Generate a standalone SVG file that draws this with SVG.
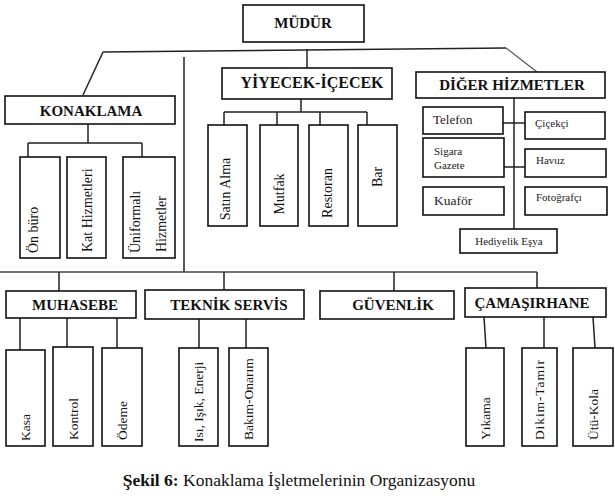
<svg xmlns="http://www.w3.org/2000/svg" width="615" height="503" viewBox="0 0 615 503">
<style>
.box{fill:#fff;stroke:#111;stroke-width:1.6}
.ln{stroke:#222;stroke-width:1.5;fill:none}
.lt{stroke:#555;stroke-width:1.2;fill:none}
text{font-family:"Liberation Serif","Times New Roman",serif;fill:#111}
.h{font-size:15px;font-weight:bold;text-anchor:middle}
.c14{font-size:14px}
.c13{font-size:13.5px}
.s{font-size:11px;fill:#222}
</style>
<rect width="615" height="503" fill="#fff"/>
<g id="connectors">
<path class="ln" d="M103,52 L506,48"/>
<path class="ln" d="M103,52 L83,95"/>
<path class="lt" d="M506,48 L537,72"/>
<path class="ln" d="M307,49 V68"/>
<path class="ln" d="M184,57 V272"/>
<path class="ln" d="M88,124 V143 M28,143 H142 M28,143 V157 M142,143 V157"/>
<path class="ln" d="M301,99 V112 M224,112 H367 M224,112 V125 M277,112 V125 M320,112 V125 M367,112 V125"/>
<path class="ln" d="M514,98 V229 M503,123 H525 M504,167 H525"/>
<path class="lt" d="M0,272 H537" style="stroke:#444;stroke-width:1.5"/>
<path class="ln" d="M59,272 V291 M224,272 V290 M394,272 V291 M537,272 V288"/>
<path class="ln" d="M20,318 V350 M67,318 V347 M117,318 V348"/>
<path class="ln" d="M199,319 V348 M246,319 V348"/>
<path class="ln" d="M484,317 L486,348 M544,317 V348 M593,317 L595,348"/>
</g>
<g id="mudur"><rect class="box" x="243" y="5" width="121" height="37"/><text class="h" x="303" y="28">MÜDÜR</text></g>
<g id="konaklama"><rect class="box" x="5" y="96" width="170" height="28"/><text class="h" x="91" y="116">KONAKLAMA</text></g>
<g id="on-buro"><rect class="box" x="20" y="157" width="40" height="101"/><text class="c14" transform="translate(38,253) rotate(-90)">Ön büro</text></g>
<g id="kat-hizmetleri"><rect class="box" x="67" y="157" width="39" height="101"/><text class="c14" transform="translate(92,252) rotate(-90)">Kat Hizmetleri</text></g>
<g id="uniformali"><rect class="box" x="123" y="157" width="52" height="101"/><text class="c14" transform="translate(140,253) rotate(-90)">Üniformalı</text><text class="c14" transform="translate(166,252) rotate(-90)">Hizmetler</text></g>
<g id="yiyecek"><rect class="box" x="222" y="68" width="170" height="31"/><text class="h" x="312" y="88" style="font-size:16px">YİYECEK-İÇECEK</text></g>
<g id="satin-alma"><rect class="box" x="208" y="125" width="39" height="101"/><text class="c14" text-anchor="middle" transform="translate(230,189) rotate(-90)">Satın Alma</text></g>
<g id="mutfak"><rect class="box" x="260" y="125" width="38" height="101"/><text class="c14" text-anchor="middle" transform="translate(284,194) rotate(-90)">Mutfak</text></g>
<g id="restoran"><rect class="box" x="309" y="125" width="39" height="101"/><text class="c14" text-anchor="middle" transform="translate(332,193) rotate(-90)">Restoran</text></g>
<g id="bar"><rect class="box" x="358" y="125" width="39" height="101"/><text class="c14" text-anchor="middle" transform="translate(382,177) rotate(-90)">Bar</text></g>
<g id="diger"><rect class="box" x="416" y="72" width="189" height="26"/><text class="h" x="512" y="90">DİĞER HİZMETLER</text></g>
<g id="telefon"><rect class="box" x="423" y="107" width="80" height="27"/><text x="433" y="124" style="font-size:13px;fill:#222">Telefon</text></g>
<g id="cicekci"><rect class="box" x="525" y="112" width="80" height="27"/><text class="s" x="535" y="127">Çiçekçi</text></g>
<g id="sigara-gazete"><rect class="box" x="423" y="138" width="81" height="39"/><text class="s" x="434" y="155">Sigara</text><text class="s" x="434" y="169">Gazete</text></g>
<g id="havuz"><rect class="box" x="525" y="149" width="81" height="28"/><text class="s" x="536" y="164">Havuz</text></g>
<g id="kuafor"><rect class="box" x="423" y="187" width="81" height="28"/><text x="434" y="205" style="font-size:13.5px;fill:#222">Kuaför</text></g>
<g id="fotografci"><rect class="box" x="525" y="187" width="82" height="28"/><text class="s" x="536" y="201">Fotoğrafçı</text></g>
<g id="hediyelik"><rect class="box" x="460" y="229" width="97" height="24"/><text class="s" x="509" y="245" text-anchor="middle">Hediyelik Eşya</text></g>
<g id="muhasebe"><rect class="box" x="6" y="291" width="130" height="27"/><text class="h" x="75" y="310">MUHASEBE</text></g>
<g id="teknik-servis"><rect class="box" x="145" y="290" width="159" height="29"/><text class="h" x="229" y="310">TEKNİK SERVİS</text></g>
<g id="guvenlik"><rect class="box" x="320" y="291" width="134" height="28"/><text class="h" x="393" y="310">GÜVENLİK</text></g>
<g id="camasirhane"><rect class="box" x="465" y="288" width="141" height="29"/><text class="h" x="532" y="308">ÇAMAŞIRHANE</text></g>
<g id="kasa"><rect class="box" x="6" y="350" width="39" height="96"/><text class="c13" transform="translate(30,441) rotate(-90)">Kasa</text></g>
<g id="kontrol"><rect class="box" x="53" y="347" width="40" height="99"/><text class="c13" transform="translate(77.5,440) rotate(-90)">Kontrol</text></g>
<g id="odeme"><rect class="box" x="102" y="348" width="40" height="98"/><text class="c13" transform="translate(126.5,440) rotate(-90)">Ödeme</text></g>
<g id="isi-isik-enerji"><rect class="box" x="179" y="348" width="39" height="98"/><text class="c13" transform="translate(203,442) rotate(-90)">Isı, Işık, Enerji</text></g>
<g id="bakim-onarim"><rect class="box" x="229" y="348" width="39" height="98"/><text class="c13" transform="translate(253,440) rotate(-90)">Bakım-Onarım</text></g>
<g id="yikama"><rect class="box" x="466" y="348" width="38" height="98"/><text class="c13" transform="translate(489.5,440) rotate(-90)">Yıkama</text></g>
<g id="dikim-tamir"><rect class="box" x="522" y="348" width="35" height="98"/><text class="c13" transform="translate(544,440) rotate(-90)" textLength="80">Dikim-Tamir</text></g>
<g id="utu-kola"><rect class="box" x="573" y="348" width="40" height="98"/><text class="c13" transform="translate(597.5,440) rotate(-90)">Ütü-Kola</text></g>
<text x="299" y="486" text-anchor="middle" style="font-size:17.5px"><tspan font-weight="bold">Şekil 6:</tspan> Konaklama İşletmelerinin Organizasyonu</text>
</svg>
